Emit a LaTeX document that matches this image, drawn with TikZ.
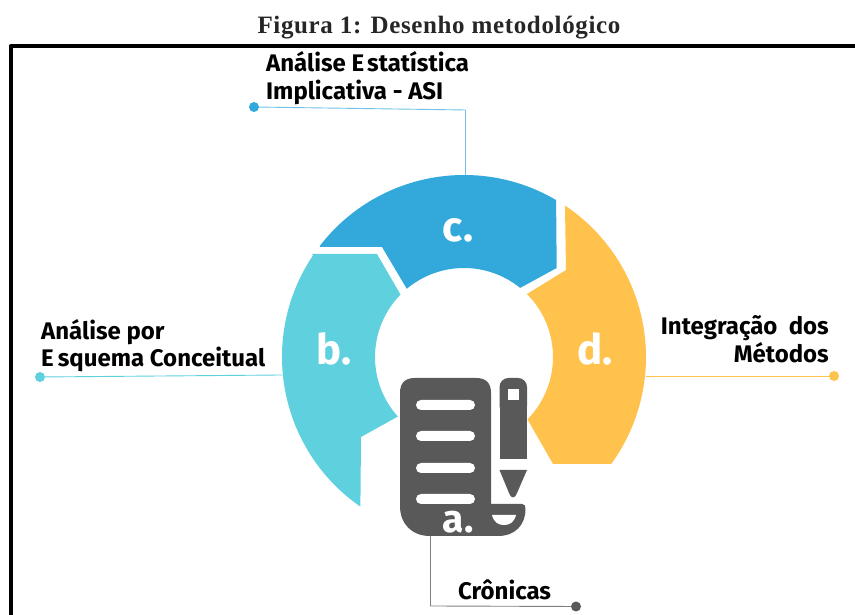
\documentclass[tikz,border=0pt]{standalone}
\usepackage{fontspec}
\usetikzlibrary{calc}
\setmainfont{Fira Sans}
\newfontfamily\titlefont[LetterSpace=2.6]{Liberation Serif}
\definecolor{cblue}{HTML}{33A9DB}
\definecolor{bteal}{HTML}{5FD0DE}
\definecolor{dorange}{HTML}{FFC34D}
\definecolor{agrey}{HTML}{595959}
\tikzset{
  lab/.style={font=\fontsize{24}{28.5}\selectfont\bfseries,text=black,inner sep=0pt,align=left},
  letter/.style={font=\fontsize{42}{42}\selectfont\bfseries,text=white,inner sep=0pt},
  enddot/.style={circle,inner sep=0pt,minimum size=10pt},
  wire/.style={line width=0.9pt}
}
\begin{document}
\begin{tikzpicture}[x=1pt,y=1pt]
\useasboundingbox (0,0) rectangle (855,615);
\fill[white] (0,0) rectangle (855,615);
\coordinate (C) at (464,258);
% title
\node[font=\titlefont\fontsize{25}{25}\selectfont\bfseries,text=black!85,inner sep=0pt] (title) at (439,587) {Figura 1: Desenho metodológico};
% frame
\draw[line width=4pt,line join=round] (10.5,-5) -- (10.5,568.5) -- (860,568.5);
% sectors
\fill[cblue] ($(C)+(142.4:182)$) arc[start angle=142.4,end angle=59.6,radius=182] -- (556.7,347) -- ($(C)+(50.9:89)$) arc[start angle=50.9,end angle=130,radius=89] -- (382,368) -- (320,368) -- cycle;
\fill[bteal] (312,361) -- (377,361) -- ($(C)+(135.5:89)$) arc[start angle=135.5,end angle=222,radius=89] -- (361,178) -- ($(C)+(235.3:182)$) arc[start angle=235.3,end angle=146,radius=182] -- cycle;
\fill[dorange] ($(C)+(56.3:182)$) arc[start angle=56.3,end angle=-36,radius=182] -- (553,151) -- ($(C)+(-44.5:89)$) arc[start angle=-44.5,end angle=45,radius=89] -- (566,345) -- cycle;
% wires and end dots
\node[enddot,fill=cblue] (dotc) at (254,508) {};
\coordinate (cbend) at (465.5,505);
\coordinate (ctop) at (465.5,440);
\draw[wire,draw=cblue!70] (dotc) -- (cbend) -- (ctop);
\node[enddot,fill=bteal] (dotb) at (40,238) {};
\coordinate (bend) at (282,240);
\draw[wire,draw=bteal] (dotb) -- (bend);
\node[enddot,fill=dorange] (dotd) at (834,239) {};
\coordinate (dend) at (646,239);
\draw[wire,draw=dorange] (dend) -- (dotd);
% document icon
\fill[agrey] (400,222) .. controls (400,232) and (405,237) .. (415,237) -- (476,237) .. controls (486,237) and (491,232) .. (491,222) -- (491,111) -- (522,111)
  .. controls (525,111) and (525.5,109) .. (525.5,106) .. controls (525.5,90) and (515,79) .. (498,79) -- (430,79) .. controls (412,79) and (400,91) .. (400,109) -- cycle;
\fill[white,rounded corners=5pt] (416,205) rectangle (475,215);
\fill[white,rounded corners=5pt] (416,174) rectangle (475,184);
\fill[white,rounded corners=5pt] (416,142) rectangle (475,152);
\fill[white,rounded corners=5pt] (416,111) rectangle (475,121);
\fill[agrey,rounded corners=9pt] (499.5,200) -- (499.5,237) -- (527,237) -- (527,200) -- cycle;
\fill[agrey] (499.5,156) rectangle (527,215);
\fill[white] (507.7,215) rectangle (519,226);
\fill[agrey] (499.5,145) -- (527,145) -- (517,122) .. controls (515,116) and (511,116) .. (509,122) -- cycle;
\fill[white] (492,100) -- (516,100) .. controls (514,92) and (509,90) .. (504,90) .. controls (499,90) and (494,92) .. (492,100) -- cycle;
\node[font=\fontsize{39}{39}\selectfont\bfseries,text=white,inner sep=0pt,anchor=base] (la) at (458,82) {a.};
% bottom wire
\coordinate (abot) at (430.5,79);
\coordinate (abend) at (430.5,9);
\node[enddot,fill=agrey] (dota) at (576,8.5) {};
\draw[wire,draw=black!50] (abot) -- (abend) -- (dota);
% letters
\node[letter,anchor=base] (lc) at (458,373) {c.};
\node[letter,anchor=base] (lb) at (334,250) {b.};
\node[letter,anchor=base] (ld) at (595,250) {d.};
% labels
\node[lab,anchor=north west] (tc) at (266,564) {Análise E\kern3pt statística\\Implicativa - ASI};
\node[lab,anchor=north west,font=\fontsize{24}{27}\selectfont\bfseries] (tb) at (41,296) {Análise por\\E\kern4pt squema Conceitual};
\node[lab,anchor=north east,align=right] (td) at (829,300) {Integração\ \ dos\\Métodos};
\node[lab,anchor=base west] (ta) at (458,15) {Crônicas};
\end{tikzpicture}
\end{document}
